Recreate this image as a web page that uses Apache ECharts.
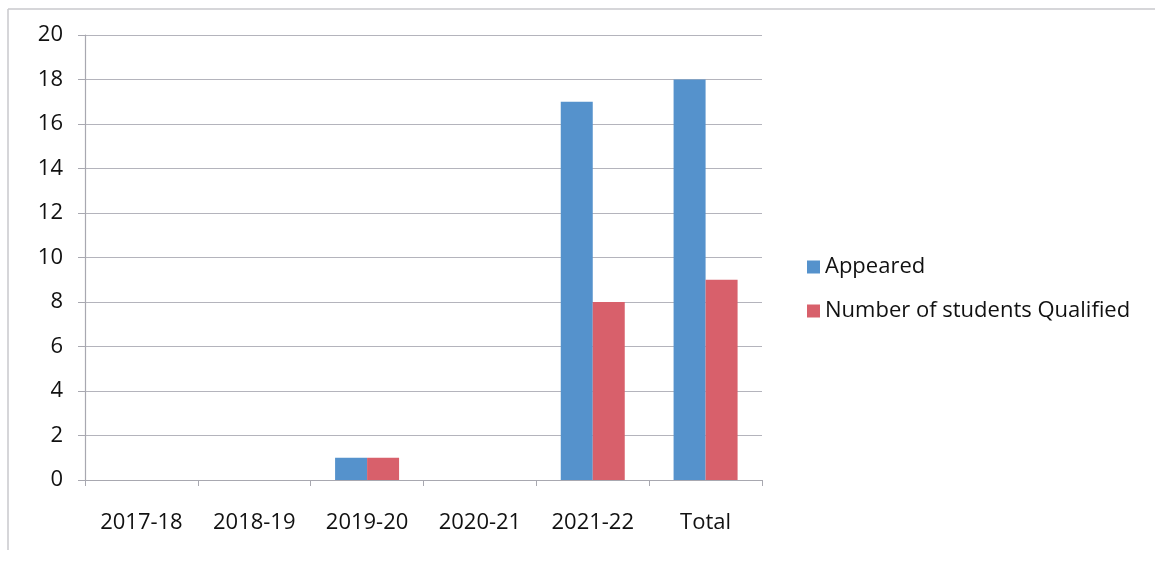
<!DOCTYPE html>
<html>
<head>
<meta charset="utf-8">
<script src="https://cdn.jsdelivr.net/npm/echarts@6/dist/echarts.min.js"></script>
<style>
html,body{margin:0;padding:0;background:#fff;}
#c{width:1155px;height:562px;}
</style>
</head>
<body>
<div id="c"></div>
<script>
var categories = ['2017-18', '2018-19', '2019-20', '2020-21', '2021-22', 'Total'];
var appeared = [0, 0, 1, 0, 17, 18];
var qualified = [0, 0, 1, 0, 8, 9];
var seriesNames = ['Appeared', 'Number of students Qualified'];

var chart = echarts.init(document.getElementById('c'));
var font = 'Open Sans';
chart.setOption({
  animation: false,
  backgroundColor: '#ffffff',
  textStyle: { fontFamily: font },
  graphic: [
    { type: 'line', shape: { x1: 8, y1: 9, x2: 1155, y2: 9 }, style: { stroke: '#c8c8cc', lineWidth: 1.5 } },
    { type: 'line', shape: { x1: 8, y1: 9, x2: 8, y2: 550 }, style: { stroke: '#c8c8cc', lineWidth: 1.5 } }
  ],
  legend: {
    orient: 'vertical',
    left: 802,
    top: 251,
    itemWidth: 13,
    itemHeight: 13,
    itemGap: 22,
    icon: 'rect',
    textStyle: { fontSize: 22, color: '#111', fontFamily: font },
    data: seriesNames
  },
  grid: { left: 85, right: 393, top: 35, bottom: 82, containLabel: false },
  xAxis: {
    type: 'category',
    data: categories,
    axisLine: { lineStyle: { color: '#a8a8b0', width: 1.2 } },
    axisTick: { show: true, alignWithLabel: false, length: 6, lineStyle: { color: '#a8a8b0' } },
    axisLabel: { fontSize: 22, color: '#111', margin: 32, fontFamily: font },
    splitLine: { show: false }
  },
  yAxis: {
    type: 'value',
    min: 0,
    max: 20,
    interval: 2,
    axisLine: { show: true, lineStyle: { color: '#a8a8b0', width: 1.2 } },
    axisTick: { show: true, length: 7, lineStyle: { color: '#a8a8b0' } },
    axisLabel: { fontSize: 22, color: '#111', margin: 22, fontFamily: font },
    splitLine: { show: true, lineStyle: { color: '#b4b4bc', width: 1.2 } }
  },
  series: [
    {
      name: seriesNames[0],
      type: 'bar',
      data: appeared,
      barWidth: 32,
      barGap: '0%',
      itemStyle: { color: '#5592cc' }
    },
    {
      name: seriesNames[1],
      type: 'bar',
      data: qualified,
      barWidth: 32,
      barGap: '0%',
      itemStyle: { color: '#d8606b' }
    }
  ]
});
</script>
</body>
</html>
